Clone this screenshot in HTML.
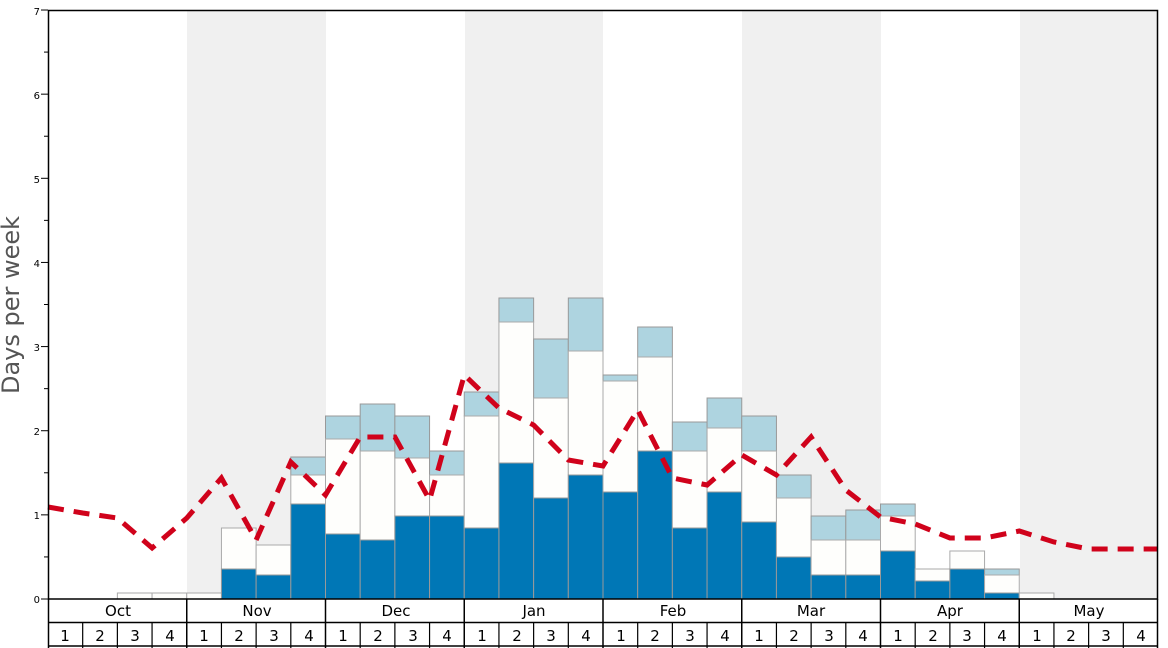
<!DOCTYPE html>
<html><head><meta charset="utf-8"><style>
html,body{margin:0;padding:0;background:#fff;}
svg{display:block;font-family:"DejaVu Sans","Liberation Sans",sans-serif;}
</style></head><body>
<svg id="s" width="1168" height="648" viewBox="0 0 1168 648" xmlns="http://www.w3.org/2000/svg">
<rect x="0" y="0" width="1168" height="648" fill="#fff"/>
<rect x="187" y="10" width="139" height="589" fill="#f0f0f0"/>
<rect x="465" y="10" width="138" height="589" fill="#f0f0f0"/>
<rect x="742" y="10" width="139" height="589" fill="#f0f0f0"/>
<rect x="1020" y="10" width="138" height="589" fill="#f0f0f0"/>
<g id="bars"></g>
<polyline id="ln" fill="none" stroke="#d0021b" stroke-width="5" stroke-dasharray="16,10" points=""/>
<rect x="48.5" y="10.5" width="1109" height="588.5" fill="none" stroke="#000" stroke-width="1.5"/>
<g id="ticks" stroke="#000" stroke-width="1"></g>
<g font-size="10" text-anchor="end" fill="#000">
<text x="40" y="603">0</text><text x="40" y="519">1</text><text x="40" y="435">2</text><text x="40" y="351">3</text><text x="40" y="267">4</text><text x="40" y="183">5</text><text x="40" y="99">6</text><text x="40" y="15">7</text>
</g>
<text transform="translate(19,305) rotate(-90)" font-size="24" fill="#555" text-anchor="middle">Days per week</text>
<g id="grid" stroke="#000" stroke-width="1.5" fill="none"></g>
<g font-size="15" text-anchor="middle" fill="#000">
<text x="118" y="616">Oct</text><text x="257" y="616">Nov</text><text x="396" y="616">Dec</text><text x="534" y="616">Jan</text><text x="673" y="616">Feb</text><text x="811" y="616">Mar</text><text x="950" y="616">Apr</text><text x="1089" y="616">May</text>
</g>
<g font-size="15" text-anchor="middle" fill="#000">
<text x="65" y="641">1</text><text x="100" y="641">2</text><text x="135" y="641">3</text><text x="170" y="641">4</text>
<text x="204" y="641">1</text><text x="239" y="641">2</text><text x="274" y="641">3</text><text x="309" y="641">4</text>
<text x="343" y="641">1</text><text x="378" y="641">2</text><text x="413" y="641">3</text><text x="447" y="641">4</text>
<text x="482" y="641">1</text><text x="517" y="641">2</text><text x="551" y="641">3</text><text x="586" y="641">4</text>
<text x="621" y="641">1</text><text x="655" y="641">2</text><text x="690" y="641">3</text><text x="725" y="641">4</text>
<text x="759" y="641">1</text><text x="794" y="641">2</text><text x="829" y="641">3</text><text x="863" y="641">4</text>
<text x="898" y="641">1</text><text x="933" y="641">2</text><text x="967" y="641">3</text><text x="1002" y="641">4</text>
<text x="1037" y="641">1</text><text x="1071" y="641">2</text><text x="1106" y="641">3</text><text x="1141" y="641">4</text>
</g>
</svg>
<script>
var W=1110/32,X0=48,NS="http://www.w3.org/2000/svg";
function el(p,t,a){var e=document.createElementNS(NS,t);for(var k in a)e.setAttribute(k,a[k]);p.appendChild(e);return e;}
var B=[[2,599,593,593],[3,599,593,593],[4,599,593,593],[5,569,528,528],[6,575,545,545],[7,504,475,457],
[8,534,439,416],[9,540,451,404],[10,516,458,416],[11,516,475,451],[12,528,416,392],[13,463,322,298],
[14,498,398,339],[15,475,351,298],[16,492,381,375],[17,451,357,327],[18,528,451,422],[19,492,428,398],
[20,522,451,416],[21,557,498,475],[22,575,540,516],[23,575,540,510],[24,551,516,504],[25,581,569,569],
[26,569,551,551],[27,593,575,569],[28,599,593,593]];
var g=document.getElementById('bars');
B.forEach(function(b){var x=X0+b[0]*W;
 if(b[3]<b[2])el(g,'rect',{x:x,y:b[3],width:W,height:b[2]-b[3],fill:'#aed4e0',stroke:'#999','stroke-width':1});
 if(b[2]<b[1])el(g,'rect',{x:x,y:b[2],width:W,height:b[1]-b[2],fill:'#fefefc',stroke:'#aaa','stroke-width':1});
 if(b[1]<599)el(g,'rect',{x:x,y:b[1],width:W,height:599-b[1],fill:'#0077b6',stroke:'#999','stroke-width':1});
});
var L=[507,513,518,548,518,478,540,462,495,437,437,500,375,408,425,460,466,410,478,485,455,475,437,490,517,524,538,538,531,542,549,549,549];
document.getElementById('ln').setAttribute('points',L.map(function(y,i){return (X0+i*W).toFixed(1)+','+y}).join(' '));
var t=document.getElementById('ticks');
for(var v=0;v<=14;v++){var y=599-v*84.14/2;el(t,'line',{x1:v%2?44:41,x2:48,y1:y,y2:y});}
var gr=document.getElementById('grid');
el(gr,'line',{x1:48,x2:1158,y1:622.5,y2:622.5});
el(gr,'line',{x1:48,x2:1158,y1:646,y2:646});
el(gr,'line',{x1:48.5,x2:48.5,y1:599,y2:648});
el(gr,'line',{x1:1157.5,x2:1157.5,y1:599,y2:648});
for(var i=1;i<32;i++){var x=X0+i*W;el(gr,'line',{x1:x,x2:x,y1:i%4?622:599,y2:648,'stroke-width':i%4?1.2:1.5});}
</script>
</body></html>
